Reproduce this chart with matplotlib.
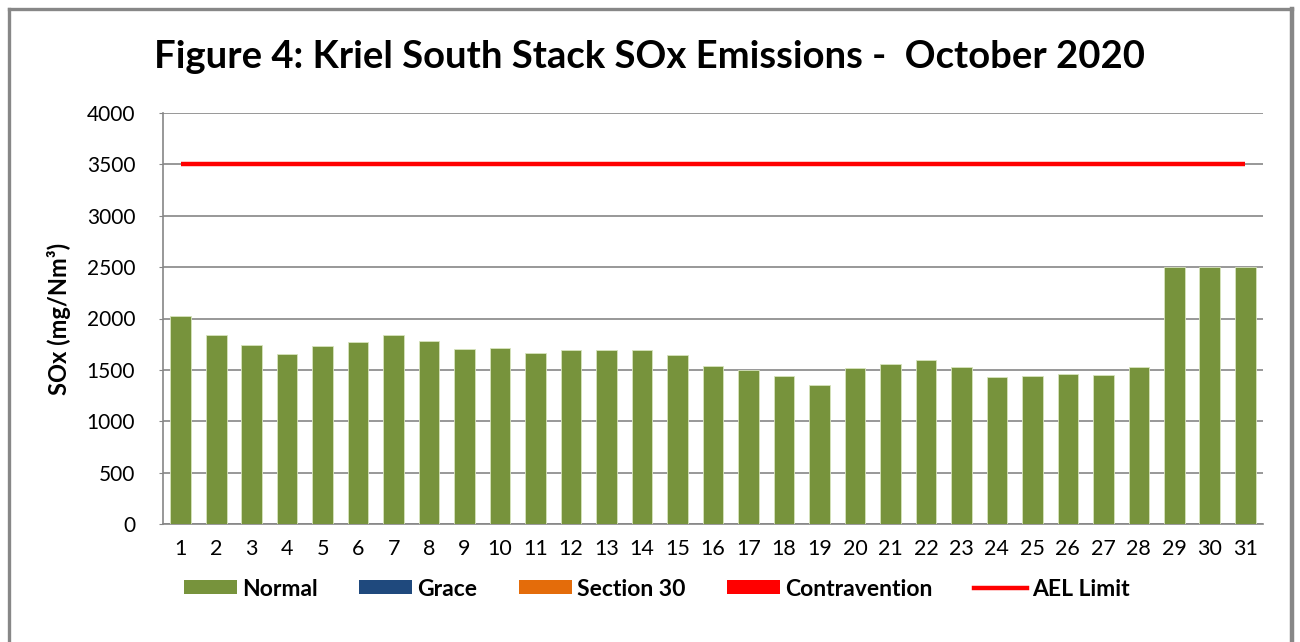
import matplotlib
matplotlib.use("Agg")
import matplotlib.pyplot as plt
from matplotlib.patches import Patch
from matplotlib.lines import Line2D
import numpy as np

plt.rcParams['font.family'] = ['Lato', 'DejaVu Sans']

days = list(range(1, 32))
normal = [2020, 1840, 1740, 1655, 1730, 1770, 1840, 1780, 1700, 1710,
          1660, 1690, 1690, 1690, 1640, 1540, 1500, 1440, 1355, 1520,
          1555, 1595, 1530, 1430, 1445, 1460, 1450, 1525, 2500, 2500, 2500]
ael_limit = [3500] * 31
yticks = [0, 500, 1000, 1500, 2000, 2500, 3000, 3500, 4000]
title = "Figure 4: Kriel South Stack SOx Emissions -  October 2020"
ylabel = "SOx (mg/Nm³)"
legend_labels = ["Normal", "Grace", "Section 30", "Contravention", "AEL Limit"]
legend_colors = ["#77933C", "#1F497D", "#E46C0A", "#FF0000", "#FF0000"]

W, H = 1300, 642
fig = plt.figure(figsize=(W / 100, H / 100), dpi=100)
ax = fig.add_axes([163 / W, 1 - 524 / H, 1100 / W, 411 / H])

x = np.array(days)
ax.bar(x, normal, width=0.58, color=legend_colors[0], edgecolor="#d7e4bd",
       linewidth=0.6, zorder=3)
ax.plot(x, ael_limit, color="#FF0000", linewidth=3.2, solid_capstyle="butt", zorder=4)

ax.set_xlim(0.5, 31.5)
ax.set_ylim(0, 4000)
ax.set_yticks(yticks)
ax.set_yticklabels([str(v) for v in yticks])
ax.set_xticks(x)
ax.set_xticklabels([str(d) for d in days])
ax.yaxis.grid(True, color="#868686", linewidth=1.2, zorder=0)
ax.set_axisbelow(True)
for s in ["top", "right"]:
    ax.spines[s].set_visible(False)
for s in ["left", "bottom"]:
    ax.spines[s].set_color("#868686")
    ax.spines[s].set_linewidth(1.2)
ax.tick_params(axis="y", length=3, color="#868686", pad=17, labelsize=15)
ax.tick_params(axis="x", length=0, pad=11, labelsize=15.5)
ax.set_ylabel(ylabel, fontsize=17, fontweight="bold", labelpad=11)

fig.text(650 / W, 1 - 57 / H, title, ha="center", va="center",
         fontsize=27.5, fontweight="bold")

handles = [Patch(facecolor=c) for c in legend_colors[:4]]
handles.append(Line2D([0], [0], color=legend_colors[4], linewidth=3.2))
leg = fig.legend(handles, legend_labels, loc="center",
                 bbox_to_anchor=(657 / W, 1 - 589 / H), ncol=5, frameon=False,
                 prop={"weight": "bold", "size": 16.5},
                 handlelength=2.3, handleheight=0.55, handletextpad=0.25,
                 columnspacing=1.8)

# outer frame
fc = "#878787"
fig.add_artist(Line2D([9 / W, 9 / W], [0, 1 - 9 / H], transform=fig.transFigure,
                      color=fc, linewidth=2.4))
fig.add_artist(Line2D([9 / W, 1292 / W], [1 - 9 / H, 1 - 9 / H], transform=fig.transFigure,
                      color=fc, linewidth=2.4))
fig.add_artist(Line2D([1292 / W, 1292 / W], [0, 1 - 9 / H], transform=fig.transFigure,
                      color=fc, linewidth=3.2))

fig.savefig("out.png", dpi=100)
